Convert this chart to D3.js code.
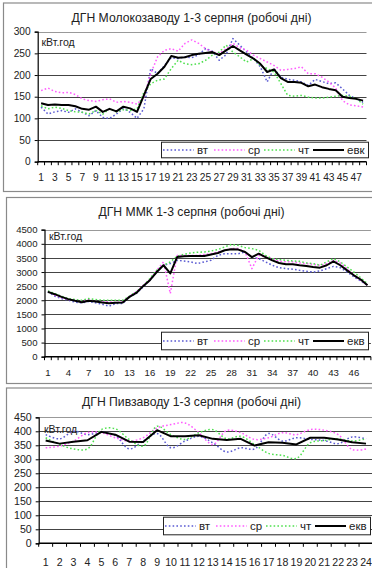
<!DOCTYPE html>
<html><head><meta charset="utf-8">
<script src="https://cdn.jsdelivr.net/npm/d3@7"></script>
<style>
html,body{margin:0;padding:0;background:#fff;}
svg{display:block;font-family:"Liberation Sans",Arial,sans-serif;}
</style></head>
<body><svg id="c" width="372" height="568"></svg>
<script>
// ---------- data ----------
const seriesNames1 = ["вт", "ср", "чт", "евк"];
const seriesNames2 = ["вт", "ср", "чт", "екв"];
const seriesNames3 = ["вт", "ср", "чт", "екв"];

const titles = [
  "ДГН Молокозаводу 1-3 серпня (робочі дні)",
  "ДГН ММК 1-3 серпня (робочі дні)",
  "ДГН Пивзаводу 1-3 серпня (робочі дні)"
];
const unitLabel = "кВт.год";

const cats48 = [1,2,3,4,5,6,7,8,9,10,11,12,13,14,15,16,17,18,19,20,21,22,23,24,
  25,26,27,28,29,30,31,32,33,34,35,36,37,38,39,40,41,42,43,44,45,46,47,48];
const cats24 = [1,2,3,4,5,6,7,8,9,10,11,12,13,14,15,16,17,18,19,20,21,22,23,24];

const yTicks1 = [0,50,100,150,200,250,300];
const yTicks2 = [0,500,1000,1500,2000,2500,3000,3500,4000,4500];
const yTicks3 = [0,50,100,150,200,250,300,350,400,450];

// Молокозавод
const milkVt  = [126,110,115,118,114,122,114,106,118,102,100,110,123,114,100,122,215,203,222,240,238,242,240,247,261,255,234,247,284,269,253,238,219,184,215,195,190,188,184,176,190,185,180,182,168,153,145,137];
const milkSr  = [164,170,162,159,160,155,145,141,139,143,145,137,139,137,133,149,203,242,257,261,255,273,281,273,261,253,250,261,273,263,257,246,238,230,222,211,213,215,219,203,203,195,184,170,141,131,129,126];
const milkCht = [129,122,126,123,118,115,114,110,118,110,122,115,120,118,122,160,180,188,191,215,234,226,224,226,234,246,253,269,253,242,230,238,222,215,207,180,153,151,153,149,147,147,149,151,153,151,145,133];
const milkAvg = [135,131,132,131,131,128,122,120,127,115,122,116,127,123,115,153,191,203,219,244,240,241,246,249,251,253,246,257,267,257,247,238,226,207,213,193,184,184,182,174,178,172,168,165,150,147,145,141];

// ММК
const mmkVt  = [2300,2145,2060,2000,1930,1910,1955,1910,1860,1790,1885,1885,2120,2240,2470,2710,3000,3240,3300,3415,3390,3360,3300,3360,3415,3590,3650,3650,3650,3710,3530,3475,3360,3240,3155,3120,3100,3060,3030,3000,3040,3120,3200,3155,3000,2830,2685,2530];
const mmkSr  = [2330,2180,2100,2025,2000,1980,2025,1965,1945,1945,1920,1945,2145,2300,2530,2735,3060,3360,2240,3590,3590,3590,3590,3620,3650,3710,3770,3830,3830,3710,3120,3590,3530,3475,3390,3360,3360,3320,3300,3275,3240,3300,3415,3320,3120,2885,2710,2530];
const mmkCht = [2330,2240,2145,2060,2025,2000,2060,2025,2000,2000,2000,2000,2145,2300,2500,2770,3060,3240,3360,3560,3630,3675,3700,3710,3745,3795,3890,3980,3945,3865,3830,3770,3590,3475,3440,3415,3390,3380,3320,3300,3240,3360,3475,3360,3180,3000,2800,2590];
const mmkAvg = [2297,2215,2120,2040,1980,1930,1980,1955,1920,1897,1910,1920,2120,2260,2500,2710,3000,3240,2950,3530,3560,3570,3570,3570,3620,3675,3770,3805,3795,3710,3530,3650,3530,3415,3320,3275,3275,3240,3215,3180,3155,3240,3380,3240,3060,2885,2735,2530];

// Пивзавод
const beerVt  = [388,373,400,388,397,385,337,365,392,341,365,382,359,326,341,337,392,365,377,371,367,356,380,373];
const beerSr  = [341,347,365,395,395,377,365,377,412,424,430,395,353,403,395,371,377,395,388,406,404,388,335,337];
const beerCht = [377,353,337,337,406,409,371,347,418,388,371,395,406,373,382,353,321,314,303,359,367,373,365,373];
const beerAvg = [367,356,363,368,398,388,363,362,404,382,382,386,373,369,373,349,361,359,353,377,377,371,361,356];

// ---------- drawing ----------
const svg = d3.select("#c");
const colors = ["#5a5ad2", "#ff5cff", "#4fe04f", "#000000"];

const panels = [
  {box:[3,2.5,400,188.5], title:titles[0], titleY:22, left:37.7, right:366.5, top:31.7, bottom:161.7,
   max:300, ticks:yTicks1, cats:cats48, labelEvery:2, labelY:181, fs:10.2,
   series:[milkVt,milkSr,milkCht,milkAvg], names:seriesNames1,
   unitX:41.5, unitY:46, legend:[161,141.7,207,15.6], smooth:false},
  {box:[6,197,400,186], title:titles[1], titleY:216, left:44.5, right:370.9, top:229.7, bottom:356.7,
   max:4500, ticks:yTicks2, cats:cats48, labelEvery:3, labelY:376, fs:9.6,
   series:[mmkVt,mmkSr,mmkCht,mmkAvg], names:seriesNames2,
   unitX:49, unitY:240, legend:[161,331.7,207,17.6], smooth:false},
  {box:[6,387.5,400,200], title:titles[2], titleY:406, left:38.7, right:373, top:417.3, bottom:543.3,
   max:450, ticks:yTicks3, cats:cats24, labelEvery:1, labelY:566, fs:10.6,
   series:[beerVt,beerSr,beerCht,beerAvg], names:seriesNames3,
   unitX:44, unitY:433, legend:[163,516.7,207,17.6], smooth:true}
];

panels.forEach(p => {
  const g = svg.append("g");
  g.append("rect").attr("x",p.box[0]+0.5).attr("y",p.box[1]+0.5).attr("width",p.box[2]).attr("height",p.box[3])
    .attr("fill","#fff").attr("stroke","#8a8a8a").attr("stroke-width",1.2);

  g.append("text").attr("x",191.5).attr("y",p.titleY).attr("text-anchor","middle")
    .attr("font-size",12.2).attr("fill","#222").text(p.title);

  const x = d3.scaleBand().domain(p.cats).range([p.left,p.right]);
  const y = d3.scaleLinear().domain([0,p.max]).range([p.bottom,p.top]);

  // gridlines
  g.append("g").selectAll("line").data(p.ticks.filter(t=>t>0)).join("line")
    .attr("x1",p.left).attr("x2",p.right)
    .attr("y1",d=>Math.round(y(d))+0.5).attr("y2",d=>Math.round(y(d))+0.5)
    .attr("stroke",d=>d===p.max?"#999":"#444").attr("stroke-width",1);

  // y axis
  const ya = d3.axisLeft(y).tickValues(p.ticks).tickFormat(d3.format("d")).tickSize(3).tickPadding(4);
  const yg = g.append("g").attr("transform",`translate(${p.left},0)`).call(ya);
  yg.select(".domain").attr("stroke","#000").attr("stroke-width",1.2);
  yg.selectAll(".tick line").attr("stroke","#000");
  yg.selectAll("text").attr("font-size",p.fs).attr("fill","#222")
    .attr("font-family","\"Liberation Sans\",Arial,sans-serif");

  // x axis with ticks between categories
  const xg = g.append("g").attr("transform",`translate(0,${p.bottom})`);
  xg.append("line").attr("x1",p.left).attr("x2",p.right).attr("y1",0).attr("y2",0)
    .attr("stroke","#000").attr("stroke-width",1.6);
  const bounds = p.cats.map(c=>x(c)).concat([p.right]);
  xg.selectAll("line.tk").data(bounds).join("line").attr("class","tk")
    .attr("x1",d=>d).attr("x2",d=>d).attr("y1",0).attr("y2",3.5)
    .attr("stroke","#000").attr("stroke-width",1);
  g.append("g").selectAll("text").data(p.cats.filter((c,i)=>i%p.labelEvery===0)).join("text")
    .attr("x",d=>x(d)+x.bandwidth()/2).attr("y",p.labelY).attr("text-anchor","middle")
    .attr("font-size",p.fs).attr("fill","#222").text(d=>d);

  // unit label
  g.append("text").attr("x",p.unitX).attr("y",p.unitY).attr("font-size",10.5).attr("fill","#222").text(unitLabel);

  // lines
  const line = d3.line().x((d,i)=>x(p.cats[i])+x.bandwidth()/2).y(d=>y(d))
    .curve(p.smooth?d3.curveCatmullRom.alpha(0.5):d3.curveLinear);
  const lineLin = d3.line().x((d,i)=>x(p.cats[i])+x.bandwidth()/2).y(d=>y(d));
  p.series.forEach((s,k)=>{
    g.append("path").datum(s).attr("fill","none")
      .attr("d", k===3?lineLin:line)
      .attr("stroke",colors[k])
      .attr("stroke-width",k===3?2:1.5)
      .attr("stroke-dasharray",k===3?null:"1.6,2.2")
      .attr("stroke-linejoin","round");
  });

  // legend
  const [lx,ly,lw,lh] = p.legend;
  const lg = g.append("g");
  lg.append("rect").attr("x",lx+0.5).attr("y",ly+0.5).attr("width",lw).attr("height",lh)
    .attr("fill","#fff").attr("stroke","#222").attr("stroke-width",1);
  const cy = ly + lh/2 + 0.5;
  const offs = [2, 53, 103, 152];
  p.names.forEach((n,k)=>{
    const x0 = lx + offs[k];
    lg.append("line").attr("x1",x0).attr("x2",x0+31).attr("y1",cy).attr("y2",cy)
      .attr("stroke",colors[k]).attr("stroke-width",k===3?2:1.5)
      .attr("stroke-dasharray",k===3?null:"1.6,2.2");
    lg.append("text").attr("x",x0+34).attr("y",cy+4).attr("font-size",11.5).attr("fill","#222").text(n);
  });
});
</script></body></html>
